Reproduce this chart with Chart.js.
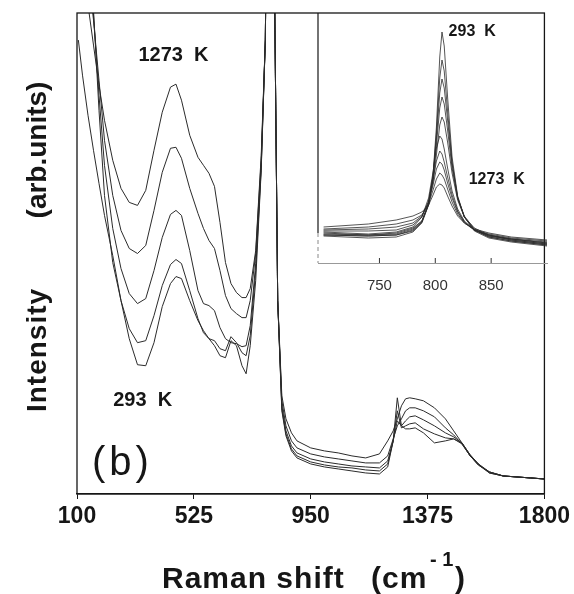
<!DOCTYPE html>
<html>
<head>
<meta charset="utf-8">
<script src="https://cdn.jsdelivr.net/npm/chart.js@4.4.1/dist/chart.umd.min.js"></script>
<style>
  html, body { margin: 0; padding: 0; background: #fff; }
  #wrap { position: relative; width: 574px; height: 594px; }
  #main { position: absolute; left: 0; top: 0; }
  #inset { position: absolute; left: 300px; top: 0; }
</style>
</head>
<body>
<div id="wrap">
  <canvas id="main" width="574" height="594"></canvas>
  <canvas id="inset" width="274" height="300"></canvas>
</div>
<script>
// ── Main panel: Raman shift (cm-1) vs intensity (arb. units) ──
const MAIN_X = [105, 120, 140, 160, 180, 200, 230, 260, 290, 320, 350, 380, 410, 440, 460, 480, 510, 540,
  560, 580, 600, 620, 640, 660, 680, 700, 715, 730, 750, 770, 785, 800, 815, 830, 845, 860,
  880, 900, 950, 1000, 1050, 1100, 1150, 1200, 1230, 1250, 1265, 1280, 1295, 1310, 1330, 1360,
  1400, 1440, 1470, 1500, 1530, 1560, 1600, 1650, 1700, 1750, 1800];

// curves from 1273 K (top) down to 293 K (bottom)
const MAIN_1273K = [693, 593, 488, 448, 408, 373, 333, 305, 291, 288, 303, 343, 381, 406, 409, 393, 358, 336,
  328, 320, 307, 271, 231, 210, 201, 196, 196, 205, 243, 338, 453, 900, 600, 193, 98, 75,
  61, 53, 46, 43, 41, 38, 36, 40, 53, 63, 75, 88, 95, 96, 95, 93, 86, 75, 63, 51, 38, 29, 22, 18, 17, 16, 15];
const MAIN_T2 = [793, 693, 523, 473, 413, 353, 298, 263, 245, 240, 248, 283, 321, 345, 346, 335, 305, 280,
  265, 253, 245, 223, 198, 185, 180, 176, 176, 193, 240, 333, 453, 900, 600, 193, 93, 68,
  53, 46, 40, 37, 35, 33, 31, 31, 38, 55, 68, 75, 83, 86, 86, 83, 77, 66, 59, 50, 38, 29, 22, 18, 17, 16, 15];
const MAIN_T3 = [793, 693, 563, 478, 398, 328, 265, 225, 200, 190, 195, 223, 256, 279, 283, 278, 243, 203,
  190, 188, 183, 166, 155, 151, 150, 147, 148, 168, 230, 328, 453, 900, 600, 193, 88, 63,
  48, 41, 35, 32, 30, 28, 27, 26, 33, 53, 73, 68, 73, 77, 78, 74, 68, 61, 57, 51, 39, 30, 22, 18, 17, 16, 15];
const MAIN_T4 = [793, 693, 553, 483, 383, 298, 231, 193, 165, 151, 153, 178, 208, 229, 234, 230, 203, 175,
  161, 155, 153, 145, 143, 157, 151, 141, 138, 158, 223, 325, 453, 900, 600, 193, 85, 60,
  45, 38, 32, 29, 27, 26, 24, 23, 30, 53, 83, 66, 68, 70, 71, 65, 60, 56, 55, 51, 39, 30, 21, 18, 17, 16, 15];
const MAIN_293K = [453, 418, 378, 343, 310, 278, 238, 193, 155, 129, 128, 151, 187, 210, 217, 215, 193, 173,
  163, 155, 148, 138, 136, 153, 148, 128, 120, 148, 213, 323, 453, 900, 600, 193, 83, 58,
  43, 36, 30, 27, 25, 23, 21, 20, 27, 53, 96, 68, 65, 65, 66, 61, 51, 53, 55, 50, 38, 29, 21, 18, 17, 16, 15];

const MAIN_TICKS = [100, 525, 950, 1375, 1800];

// ── Inset: the ~800 cm-1 band, 293 K (tallest) to 1273 K (lowest) ──
const INSET_X = [700, 740, 765, 780, 788, 794, 798, 801, 804, 806, 808, 811, 815, 820, 826, 835, 848, 868, 900];
const INSET_0 = [27, 25, 26, 31, 40, 58, 88, 136, 206, 231, 217, 166, 106, 67, 46, 32, 25, 21, 17];
const INSET_1 = [28, 27, 28, 32, 41, 59, 87, 129, 185, 203, 192, 152, 101, 66, 46, 33, 26, 22, 18];
const INSET_2 = [28, 27, 28, 33, 41, 59, 87, 124, 170, 184, 175, 143, 99, 65, 46, 33, 26, 22, 18];
const INSET_3 = [29, 28, 29, 34, 42, 60, 85, 118, 155, 166, 159, 133, 95, 65, 47, 34, 27, 23, 19];
const INSET_4 = [30, 28, 30, 35, 42, 58, 81, 108, 138, 146, 141, 121, 90, 63, 46, 35, 28, 23, 19];
const INSET_5 = [31, 29, 31, 36, 46, 65, 91, 115, 127, 124, 114, 95, 72, 54, 42, 33, 28, 24, 20];
const INSET_6 = [32, 32, 33, 38, 46, 62, 83, 102, 112, 109, 101, 86, 68, 52, 41, 33, 27, 24, 20];
const INSET_7 = [33, 34, 36, 40, 47, 61, 78, 94, 101, 99, 93, 80, 65, 51, 41, 33, 28, 24, 21];
const INSET_8 = [34, 36, 39, 43, 48, 59, 73, 84, 90, 88, 84, 74, 61, 49, 40, 33, 29, 25, 22];
const INSET_9 = [36, 39, 43, 47, 51, 58, 68, 76, 79, 78, 75, 67, 57, 47, 40, 34, 30, 26, 23];

const INSET_TICKS = [750, 800, 850];

const FONT = "'Liberation Sans', Arial, Helvetica, sans-serif";
const INK = '#161616';

function toPoints(xs, ys) {
  return xs.map((x, i) => ({ x, y: ys[i] }));
}

function lineSet(xs, ys, width) {
  return {
    data: toPoints(xs, ys),
    borderColor: '#2b2b2b',
    borderWidth: width,
    pointRadius: 0,
    fill: false,
    tension: 0,
  };
}

// cadre + textes du panneau principal
const mainDecor = {
  id: 'mainDecor',
  afterDraw(chart) {
    const { ctx, chartArea: a, scales } = chart;
    ctx.save();
    ctx.strokeStyle = INK;
    ctx.lineWidth = 1.3;
    ctx.strokeRect(a.left, a.top, a.right - a.left, a.bottom - a.top);

    ctx.fillStyle = INK;
    ctx.textAlign = 'center';
    ctx.textBaseline = 'middle';
    ctx.font = `bold 20px ${FONT}`;
    ctx.fillText('1273  K', scales.x.getPixelForValue(451), scales.y.getPixelForValue(438));
    ctx.fillText('293  K', scales.x.getPixelForValue(339), scales.y.getPixelForValue(93));

    ctx.font = `40px ${FONT}`;
    ctx.letterSpacing = '4px';
    ctx.fillText('(b)', scales.x.getPixelForValue(265), scales.y.getPixelForValue(30));

    // titre axe y (vertical)
    ctx.font = `bold 28px ${FONT}`;
    ctx.textBaseline = 'alphabetic';
    ctx.letterSpacing = '1px';
    ctx.save();
    ctx.translate(46, 350);
    ctx.rotate(-Math.PI / 2);
    ctx.fillText('Intensity', 0, 0);
    ctx.restore();
    ctx.letterSpacing = '0px';
    ctx.save();
    ctx.translate(46, 150);
    ctx.rotate(-Math.PI / 2);
    ctx.fillText('(arb.units)', 0, 0);
    ctx.restore();

    // titre axe x avec exposant
    ctx.font = `bold 30px ${FONT}`;
    ctx.textAlign = 'left';
    ctx.letterSpacing = '1px';
    ctx.fillText('Raman shift', 162, 588);
    ctx.fillText('(cm', 371, 588);
    ctx.fillText(')', 455, 588);
    ctx.font = `bold 20px ${FONT}`;
    ctx.letterSpacing = '0px';
    ctx.fillText('- 1', 430, 566);
    ctx.restore();
  },
};

new Chart(document.getElementById('main'), {
  type: 'line',
  plugins: [mainDecor],
  data: {
    datasets: [MAIN_1273K, MAIN_T2, MAIN_T3, MAIN_T4, MAIN_293K].map(ys => lineSet(MAIN_X, ys, 1)),
  },
  options: {
    animation: false,
    responsive: false,
    layout: { padding: { left: 77, top: 13, right: 26, bottom: 0 } },
    plugins: { legend: { display: false }, tooltip: { enabled: false } },
    scales: {
      x: {
        type: 'linear',
        min: 100,
        max: 1800,
        afterBuildTicks: s => { s.ticks = MAIN_TICKS.map(v => ({ value: v })); },
        afterFit: s => { s.height = 100; },
        ticks: {
          color: INK,
          font: { family: FONT, size: 23, weight: 'bold' },
          padding: 4,
          maxRotation: 0,
          autoSkip: false,
          callback: v => String(v),
        },
        grid: { drawOnChartArea: false, tickLength: 5, color: INK, lineWidth: 1 },
        border: { color: INK, width: 1.3 },
      },
      y: { display: false, min: 0, max: 480 },
    },
  },
});

// encart : bord gauche, graduations internes, étiquettes
const insetDecor = {
  id: 'insetDecor',
  afterDraw(chart) {
    const { ctx, chartArea: a, scales } = chart;
    ctx.save();
    ctx.strokeStyle = INK;
    ctx.lineWidth = 1.2;
    ctx.beginPath();
    ctx.moveTo(a.left, a.top);
    ctx.lineTo(a.left, a.bottom - 30);
    ctx.stroke();
    ctx.strokeStyle = '#888';
    ctx.lineWidth = 1;
    ctx.setLineDash([4, 3]);
    ctx.beginPath();
    ctx.moveTo(a.left, a.bottom - 30);
    ctx.lineTo(a.left, a.bottom);
    ctx.stroke();
    ctx.setLineDash([]);

    ctx.strokeStyle = '#333';
    INSET_TICKS.forEach(v => {
      const px = scales.x.getPixelForValue(v);
      ctx.beginPath();
      ctx.moveTo(px, a.bottom);
      ctx.lineTo(px, a.bottom - 5);
      ctx.stroke();
    });

    ctx.fillStyle = INK;
    ctx.font = `bold 16px ${FONT}`;
    ctx.textAlign = 'center';
    ctx.textBaseline = 'middle';
    ctx.fillText('293  K', scales.x.getPixelForValue(833), scales.y.getPixelForValue(231));
    ctx.fillText('1273  K', scales.x.getPixelForValue(855), scales.y.getPixelForValue(83));
    ctx.restore();
  },
};

new Chart(document.getElementById('inset'), {
  type: 'line',
  plugins: [insetDecor],
  data: {
    datasets: [INSET_0, INSET_1, INSET_2, INSET_3, INSET_4, INSET_5, INSET_6, INSET_7, INSET_8, INSET_9]
      .map(ys => lineSet(INSET_X, ys, 0.8)),
  },
  options: {
    animation: false,
    responsive: false,
    layout: { padding: { left: 18, top: 13, right: 27, bottom: 0 } },
    plugins: { legend: { display: false }, tooltip: { enabled: false } },
    scales: {
      x: {
        type: 'linear',
        min: 695,
        max: 900,
        afterBuildTicks: s => { s.ticks = INSET_TICKS.map(v => ({ value: v })); },
        afterFit: s => { s.height = 37; },
        ticks: {
          color: '#333',
          font: { family: FONT, size: 15 },
          padding: 6,
          maxRotation: 0,
          autoSkip: false,
          callback: v => String(v),
        },
        grid: { display: false },
        border: { display: true, color: '#999', width: 1, dash: [3, 3] },
      },
      y: { display: false, min: 0, max: 250 },
    },
  },
});
</script>
</body>
</html>
